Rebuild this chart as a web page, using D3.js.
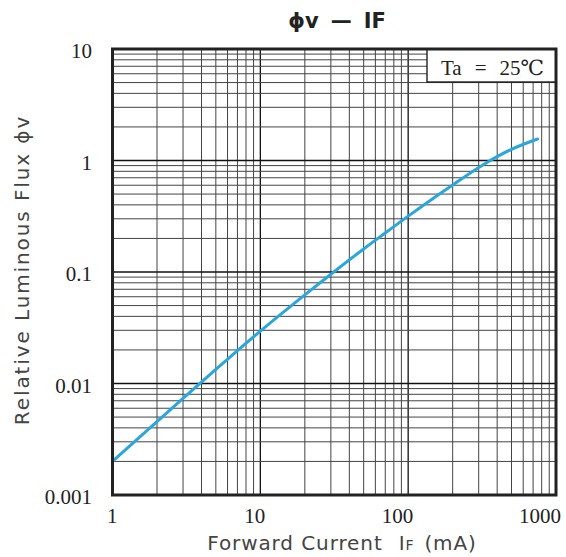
<!DOCTYPE html>
<html>
<head>
<meta charset="utf-8">
<script src="https://cdn.jsdelivr.net/npm/d3@7"></script>
<style>
  body { margin: 0; background: #fff; }
  svg { display: block; }
</style>
</head>
<body>
<svg></svg>
<script>
// chart data
const currentMA = [1, 2, 3, 5, 7, 10, 20, 30, 50, 70, 100, 200, 350, 500, 750];
const fluxRel = [0.002, 0.00456, 0.00736, 0.0134, 0.0197, 0.0295, 0.0624, 0.0955, 0.161, 0.224, 0.317, 0.604, 0.98, 1.26, 1.56];
const xTicks = [1, 10, 100, 1000];
const yTicks = [0.001, 0.01, 0.1, 1, 10];
const yTickLabels = ["0.001", "0.01", "0.1", "1", "10"];

const W = 566, H = 557;
const LEFT = 112.5, RIGHT = 556, TOP = 49, BOTTOM = 495;

const svg = d3.select("svg").attr("width", W).attr("height", H);

const x = d3.scaleLog().domain([1, 1000]).range([LEFT, RIGHT]);
const y = d3.scaleLog().domain([0.001, 10]).range([BOTTOM, TOP]);

// 1..9 per decade, first one of each decade is the major line
function logGrid(lo, hi) {
  const out = [];
  for (let d = lo; d < hi; d *= 10) {
    for (let k = 1; k <= 9; k++) out.push({ v: d * k, major: k === 1 });
  }
  return out;
}

const grid = svg.append("g");
logGrid(1, 1000).forEach(g => {
  if (g.v <= 1) return;
  grid.append("line")
    .attr("x1", x(g.v)).attr("x2", x(g.v))
    .attr("y1", TOP).attr("y2", BOTTOM)
    .attr("stroke", g.major ? "#111" : "#444")
    .attr("stroke-width", g.major ? 1.3 : 1);
});
logGrid(0.001, 10).forEach(g => {
  if (g.v <= 0.001) return;
  grid.append("line")
    .attr("x1", LEFT).attr("x2", RIGHT)
    .attr("y1", y(g.v)).attr("y2", y(g.v))
    .attr("stroke", g.major ? "#111" : "#444")
    .attr("stroke-width", g.major ? 1.3 : 1);
});

// curve
const line = d3.line()
  .x((d, i) => x(currentMA[i]))
  .y(d => y(d))
  .curve(d3.curveMonotoneX);

svg.append("path")
  .datum(fluxRel)
  .attr("d", line)
  .attr("fill", "none")
  .attr("stroke", "#2aa6df")
  .attr("stroke-width", 3)
  .attr("stroke-linecap", "round");

// condition box
svg.append("rect")
  .attr("x", 427).attr("y", TOP)
  .attr("width", RIGHT - 427).attr("height", 82 - TOP)
  .attr("fill", "#fff")
  .attr("stroke", "#111")
  .attr("stroke-width", 1.3);

const serif = "Liberation Serif, DejaVu Serif, serif";
const ta = svg.append("text")
  .attr("x", 441).attr("y", 75)
  .attr("font-family", serif)
  .attr("font-size", 21)
  .attr("fill", "#222");
ta.append("tspan").text("Ta");
ta.append("tspan").attr("dx", 13).text("=");
ta.append("tspan").attr("dx", 13).text("25℃");

// frame
svg.append("rect")
  .attr("x", LEFT).attr("y", TOP)
  .attr("width", RIGHT - LEFT).attr("height", BOTTOM - TOP)
  .attr("fill", "none")
  .attr("stroke", "#222")
  .attr("stroke-width", 3);

// tick labels
xTicks.forEach(t => {
  svg.append("text")
    .attr("x", x(t) + 5)
    .attr("y", 523)
    .attr("text-anchor", "end")
    .attr("font-family", serif)
    .attr("font-size", 21)
    .attr("fill", "#222")
    .text(t);
});
yTicks.forEach((t, i) => {
  svg.append("text")
    .attr("x", 92)
    .attr("y", y(t) + 9)
    .attr("text-anchor", "end")
    .attr("font-family", serif)
    .attr("font-size", 21)
    .attr("fill", "#222")
    .text(yTickLabels[i]);
});

// titles
const sans = "DejaVu Sans, Noto Sans, sans-serif";
const title = svg.append("text")
  .attr("x", 337).attr("y", 28)
  .attr("text-anchor", "middle")
  .attr("font-family", sans)
  .attr("font-size", 21)
  .attr("font-weight", "bold")
  .attr("fill", "#222");
title.append("tspan").text("ϕv");
title.append("tspan").attr("dx", 12).text("—");
title.append("tspan").attr("dx", 12).text("IF");

const xt = svg.append("text")
  .attr("x", 342).attr("y", 550)
  .attr("text-anchor", "middle")
  .attr("font-family", sans)
  .attr("font-size", 20)
  .attr("letter-spacing", 0.9)
  .attr("fill", "#444");
xt.append("tspan").text("Forward Current");
xt.append("tspan").attr("dx", 16).text("I");
xt.append("tspan").attr("font-size", 14).text("F");
xt.append("tspan").attr("dx", 10).text("(mA)");

svg.append("text")
  .attr("transform", "translate(29,270) rotate(-90)")
  .attr("text-anchor", "middle")
  .attr("font-family", sans)
  .attr("font-size", 20)
  .attr("letter-spacing", 1.9)
  .attr("fill", "#444")
  .text("Relative Luminous Flux ϕv");
</script>
</body>
</html>
